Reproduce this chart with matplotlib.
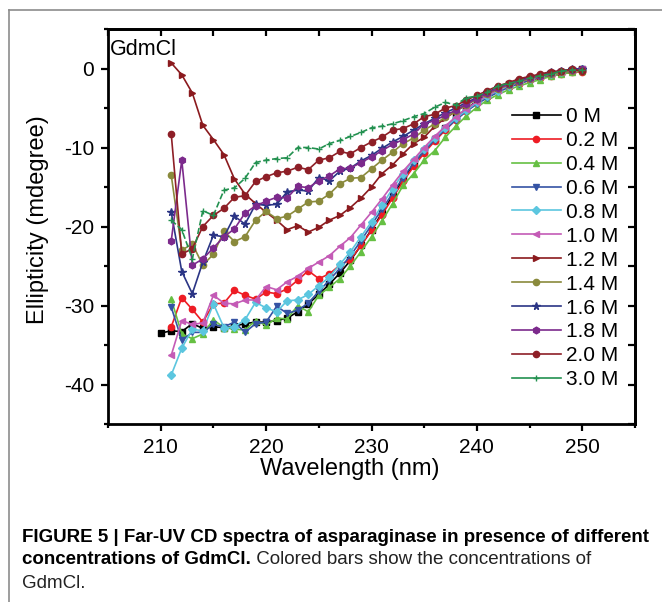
import numpy as np
import matplotlib
matplotlib.use("Agg")
import matplotlib.pyplot as plt
from matplotlib.lines import Line2D
from matplotlib.ticker import MultipleLocator

plt.rcParams['font.family'] = ['Liberation Sans', 'DejaVu Sans']
plt.rcParams['axes.unicode_minus'] = False

# longitudes de onda (nm)
wl0 = np.arange(210, 251)
wl = np.arange(211, 251)

# elipticidad (mdegree) para cada concentracion de GdmCl
c00 = [-33.5, -33.2, -33.3, -32.3, -32.9, -32.7, -32.8, -32.6, -32.3, -32.1, -32.1,
       -31.9, -31.6, -30.8, -29.8, -28.6, -27.3, -25.9, -24.3, -22.4, -20.4,
       -18.3, -16.1, -14.0, -12.1, -10.4, -8.9, -7.5, -6.2, -5.1, -4.1,
       -3.3, -2.6, -2.0, -1.6, -1.2, -0.9, -0.6, -0.4, -0.2, -0.1]
c02 = [-32.7, -29.0, -30.5, -32.1, -29.8, -29.7, -28.1, -28.7, -29.2, -28.3,
       -28.5, -27.9, -26.8, -25.6, -26.6, -26.0, -24.9, -24.2, -22.4, -20.5,
       -18.5, -16.4, -14.3, -12.4, -10.7, -9.2, -7.8, -6.5, -5.4, -4.4,
       -3.6, -2.9, -2.3, -1.9, -1.5, -1.2, -1.0, -0.7, -0.5, -0.4]
c04 = [-29.2, -33.6, -34.2, -33.6, -31.8, -32.8, -33.0, -33.1, -31.9, -32.5,
       -31.6, -31.7, -30.0, -30.8, -28.7, -27.7, -26.6, -25.0, -23.2, -21.3,
       -19.3, -17.1, -14.8, -13.3, -11.6, -10.4, -8.7, -7.3, -6.0, -4.9,
       -4.0, -3.3, -2.7, -2.2, -1.8, -1.4, -1.0, -0.7, -0.5, -0.3]
c06 = [-30.2, -34.4, -33.4, -33.4, -32.4, -32.7, -32.1, -33.4, -32.3, -32.1,
       -30.1, -31.0, -30.6, -29.7, -28.2, -26.8, -25.3, -23.7, -21.8, -19.8,
       -17.8, -15.8, -13.8, -12.0, -10.5, -9.0, -7.7, -6.5, -5.4, -4.5,
       -3.7, -3.0, -2.4, -1.9, -1.5, -1.1, -0.8, -0.5, -0.3, -0.2]
c08 = [-38.8, -35.4, -33.0, -33.2, -29.8, -32.8, -32.7, -31.8, -29.6, -30.3,
       -30.8, -29.4, -29.3, -28.6, -27.5, -26.4, -24.8, -23.2, -21.3, -19.4,
       -17.3, -15.2, -13.3, -11.6, -10.2, -8.8, -7.5, -6.3, -5.3, -4.3,
       -3.5, -2.8, -2.2, -1.7, -1.3, -1.0, -0.7, -0.4, -0.2, -0.1]
c10 = [-36.3, -31.9, -32.4, -32.2, -28.7, -29.7, -29.8, -29.3, -29.3, -27.6,
       -28.0, -27.0, -26.3, -25.3, -24.5, -23.7, -22.5, -21.4, -19.8, -18.2,
       -16.5, -14.7, -13.0, -11.5, -10.0, -8.6, -7.3, -6.1, -5.1, -4.2,
       -3.4, -2.7, -2.1, -1.7, -1.3, -1.0, -0.7, -0.4, -0.2, -0.1]
c12 = [0.7, -0.8, -3.1, -7.2, -9.0, -10.9, -14.0, -15.9, -17.1, -18.2,
       -19.2, -20.4, -19.9, -20.7, -20.1, -19.2, -18.6, -17.6, -16.4, -15.0,
       -13.3, -12.2, -10.8, -9.5, -8.7, -7.3, -6.3, -5.4, -4.6, -3.8,
       -3.1, -2.5, -2.0, -1.6, -1.2, -0.9, -0.6, -0.4, -0.2, -0.1]
c14 = [-13.5, -23.0, -22.2, -24.9, -23.5, -20.6, -21.9, -21.3, -19.2, -18.1,
       -19.0, -18.7, -17.8, -16.9, -16.8, -15.9, -14.6, -13.9, -13.8, -12.7,
       -11.6, -10.6, -9.5, -8.8, -7.8, -7.0, -6.2, -5.4, -4.6, -3.9,
       -3.2, -2.6, -2.1, -1.7, -1.3, -1.0, -0.7, -0.5, -0.3, -0.2]
c16 = [-18.2, -25.7, -28.5, -24.5, -21.1, -21.3, -18.7, -19.7, -17.2, -17.3,
       -17.2, -15.6, -15.4, -15.5, -13.8, -14.2, -13.0, -12.6, -11.7, -11.0,
       -10.1, -9.3, -8.6, -7.8, -7.0, -6.3, -5.6, -5.0, -4.3, -3.7,
       -3.0, -2.4, -1.9, -1.5, -1.1, -0.8, -0.5, -0.3, -0.1, 0.0]
c18 = [-21.8, -11.6, -24.9, -24.1, -22.7, -21.3, -20.3, -18.3, -17.4, -16.8,
       -16.3, -16.4, -14.9, -15.1, -14.2, -13.6, -12.7, -12.6, -11.9, -11.2,
       -10.4, -9.6, -9.0, -8.3, -7.0, -6.6, -5.9, -5.3, -4.5, -3.8,
       -3.1, -2.5, -2.0, -1.6, -1.2, -0.9, -0.6, -0.3, -0.2, -0.1]
c20 = [-8.3, -23.5, -22.8, -20.0, -18.6, -17.7, -16.3, -16.1, -14.3, -13.7,
       -13.2, -13.0, -12.5, -12.8, -11.6, -11.3, -10.5, -10.8, -10.0, -9.3,
       -8.7, -7.8, -7.6, -7.0, -6.1, -5.8, -5.0, -4.7, -4.0, -3.4,
       -2.8, -2.2, -1.8, -1.3, -1.0, -0.7, -0.4, -0.3, -0.1, -0.3]
c30 = [-19.2, -20.4, -24.1, -18.0, -18.6, -15.4, -15.1, -13.9, -11.9, -11.6,
       -11.4, -11.3, -10.0, -10.0, -10.2, -9.5, -9.1, -8.6, -8.1, -7.5,
       -7.3, -7.0, -6.6, -6.1, -5.7, -4.9, -4.3, -4.6, -3.7, -3.5,
       -3.0, -2.2, -1.9, -1.6, -1.2, -0.9, -0.7, -0.3, -0.2, -0.2]

etiquetas = ['0 M', '0.2 M', '0.4 M', '0.6 M', '0.8 M', '1.0 M',
             '1.2 M', '1.4 M', '1.6 M', '1.8 M', '2.0 M', '3.0 M']

# (color, marcador, tamano, estilo de linea)
estilos = [('#000000', 's', 4.2, '-'),
           ('#ee1c24', 'o', 4.5, '-'),
           ('#66c043', '^', 4.5, '-'),
           ('#3553a4', 'v', 4.5, '-'),
           ('#5cc6df', 'D', 3.6, '-'),
           ('#c45bb6', '<', 4.5, '-'),
           ('#8b1a1e', '>', 4.5, '-'),
           ('#8a8a3c', 'o', 4.5, '-'),
           ('#2b3585', '*', 5.5, '-'),
           ('#7c2a8c', 'h', 4.8, '-'),
           ('#8e1f27', 'o', 4.5, '-'),
           ('#239150', '+', 4.5, '--')]

series = [(wl0, c00), (wl, c02), (wl, c04), (wl, c06), (wl, c08), (wl, c10),
          (wl, c12), (wl, c14), (wl, c16), (wl, c18), (wl, c20), (wl, c30)]

W, H = 662, 602
fig = plt.figure(figsize=(W / 100, H / 100), dpi=100)

# marco gris de la figura
fig.add_artist(Line2D([9 / W, 1.0], [1 - 10 / H, 1 - 10 / H], color='#8c8c8c', lw=1.2))
fig.add_artist(Line2D([9 / W, 9 / W], [0.0, 1 - 10 / H], color='#8c8c8c', lw=1.2))

ax = fig.add_axes([108 / W, 1 - 424 / H, 527 / W, 395 / H])

for (x, y), (col, mk, ms, ls), lab in zip(series, estilos, etiquetas):
    ax.plot(x, y, color=col, marker=mk, ls=ls, lw=1.2, ms=ms,
            mec=col, mfc=col, mew=1.0, label=lab)

ax.set_xlim(205, 255)
ax.set_ylim(-45, 5)
ax.xaxis.set_major_locator(MultipleLocator(10))
ax.xaxis.set_minor_locator(MultipleLocator(5))
ax.yaxis.set_major_locator(MultipleLocator(10))
ax.yaxis.set_minor_locator(MultipleLocator(5))
ax.tick_params(which='major', direction='out', length=5, width=1.6, labelsize=15, pad=5)
ax.tick_params(which='minor', direction='out', length=3, width=1.6)
for s in ax.spines.values():
    s.set_linewidth(2.0)

# ticks hacia dentro arriba y a la derecha
top = ax.secondary_xaxis('top')
top.set_xticks(np.arange(205, 256, 5))
top.tick_params(direction='in', length=5, width=1.6, labeltop=False)
top.spines['top'].set_linewidth(2.0)
der = ax.secondary_yaxis('right')
der.set_yticks(np.arange(-45, 6, 5))
der.tick_params(direction='in', length=5, width=1.6, labelright=False)
der.spines['right'].set_linewidth(2.0)

fig.text(350 / W, 1 - 469 / H, 'Wavelength (nm)', fontsize=17, ha='center', va='center')
fig.text(38 / W, 1 - 220 / H, 'Ellipticity (mdegree)', fontsize=17, ha='center',
         va='center', rotation=90)
ax.text(2 / 527, (424 - 55) / 395, 'GdmCl', transform=ax.transAxes, fontsize=15.5,
        ha='left', va='baseline')

leg = ax.legend(loc='upper left', bbox_to_anchor=(512 / W, 1 - 107 / H),
                bbox_transform=fig.transFigure, frameon=False, fontsize=15,
                handlelength=2.35, handletextpad=0.25, labelspacing=0.237,
                borderpad=0, borderaxespad=0)
leg.get_lines()[-1].set_linestyle('-')

# pie de figura
r = fig.canvas.get_renderer()
l1 = 'FIGURE 5 | Far-UV CD spectra of asparaginase in presence of different'
t1 = fig.text(22 / W, 1 - 537 / H, l1, fontsize=11, fontweight='bold', va='center')
w1 = t1.get_window_extent(r).width
fs = 11 * 630 / w1
t1.set_fontsize(fs)
t2 = fig.text(22 / W, 1 - 560 / H, 'concentrations of GdmCl.', fontsize=fs,
              fontweight='bold', va='center')
x2 = t2.get_window_extent(r).x1
fig.text(x2 / W, 1 - 560 / H, ' Colored bars show the concentrations of', fontsize=fs,
         va='center', color='#222222')
fig.text(22 / W, 1 - 583 / H, 'GdmCl.', fontsize=fs, va='center', color='#222222')

fig.savefig('out.png', dpi=100)
